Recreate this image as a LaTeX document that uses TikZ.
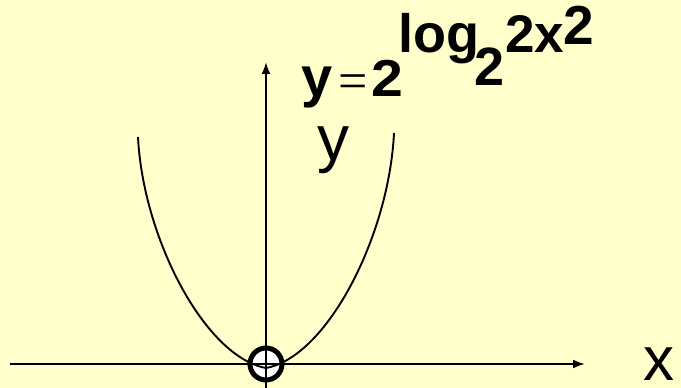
\documentclass[tikz,border=0pt]{standalone}
\usepackage{fontspec}
\setmainfont{Liberation Sans}
\newfontfamily\serifa{Liberation Serif}
\usetikzlibrary{arrows.meta}
\definecolor{fondo}{RGB}{255,255,204}
\newcommand{\tam}[1]{\fontsize{#1}{#1}\selectfont}
\tikzset{
  >={Latex[length=12pt,width=9pt]},
  eje/.style={->, line width=2pt},
  curva/.style={line width=1.9pt},
  texto/.style={anchor=base west, inner sep=0pt, outer sep=0pt},
}

\begin{document}
\begin{tikzpicture}[x=1pt,y=1pt]
  \fill[fondo] (0,0) rectangle (681,388);
  \useasboundingbox (0,0) rectangle (681,388);
  \coordinate (O) at (266,24);
  \coordinate (xi) at (10,24);
  \coordinate (xf) at (585,24);
  \coordinate (yi) at (266,-5);
  \coordinate (yf) at (266,326);
  \fill[white] (O) circle (16);
  \draw[eje] (xi) -- (xf);
  \draw[eje] (yi) -- (yf);
  \draw[curva] (138,251) .. controls (143,150) and (205,31) .. (266,20)
    .. controls (327,31) and (389,152) .. (394,255);
  \draw[line width=5pt] (O) circle (16);
  % formula
  \node[texto, font=\bfseries\tam{56}] (fy) at (301,291) {y};
  \node[texto, font=\serifa\tam{52}] (figual) at (338,289) {=};
  \node[texto, font=\bfseries\tam{52}] (fdos) at (371,291) {\scalebox{1.1}[1]{2}};
  \node[texto, font=\bfseries\tam{54}] (flog) at (398,335) {log};
  \node[texto, font=\bfseries\tam{54}] (fsub) at (474,302) {2};
  \node[texto, font=\bfseries\tam{53}] (fdosx) at (505,335) {2x};
  \node[texto, font=\bfseries\tam{55}] (fsup) at (563,343) {2};
  % ejes
  \node[texto, font=\tam{64}] (ly) at (317,227) {y};
  \node[texto, font=\tam{62}, text depth=0pt] (lx) at (643,7) {x};
\end{tikzpicture}
\end{document}
